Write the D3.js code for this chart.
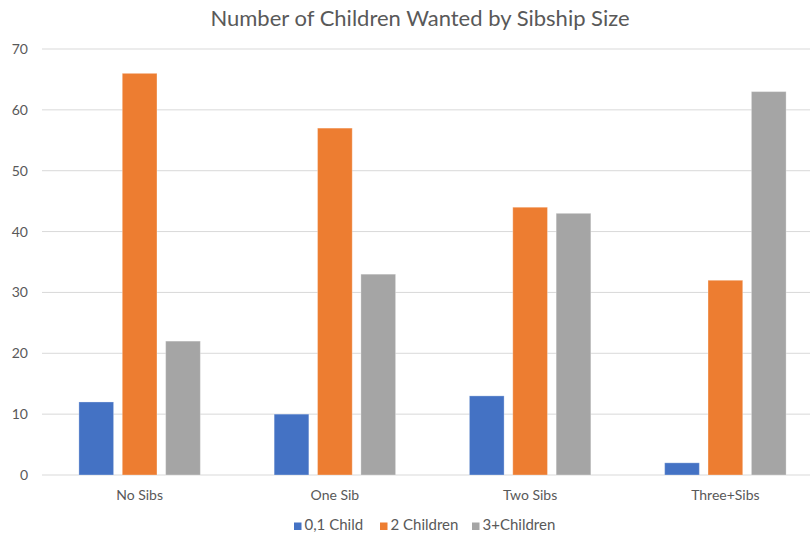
<!DOCTYPE html>
<html>
<head>
<meta charset="utf-8">
<script src="https://cdn.jsdelivr.net/npm/d3@7"></script>
<style>
  body { margin: 0; background: #fff; }
  text { font-family: Lato, "Noto Sans", sans-serif; fill: #595959; }
</style>
</head>
<body>
<div class="chart"></div>
<script>
// data
const categories = ["No Sibs", "One Sib", "Two Sibs", "Three+Sibs"];
const seriesNames = ["0,1 Child", "2 Children", "3+Children"];
const oneChild = [12, 10, 13, 2];
const twoChildren = [66, 57, 44, 32];
const threePlus = [22, 33, 43, 63];
const yTicks = [0, 10, 20, 30, 40, 50, 60, 70];
const colors = ["#4472c4", "#ed7d31", "#a5a5a5"];

const width = 810;
const height = 536;
const plotLeft = 42;
const plotRight = 823; // plot runs past the right edge of the picture
const plotTop = 49;
const plotBottom = 475;

const svg = d3.select(".chart")
  .append("svg")
  .attr("width", width)
  .attr("height", height);

const x0 = d3.scaleBand()
  .domain(categories)
  .range([plotLeft, plotRight])
  .paddingInner(0.378)
  .paddingOuter(0.189);

const x1 = d3.scaleBand()
  .domain(seriesNames)
  .range([0, x0.bandwidth()])
  .paddingInner(0.2)
  .paddingOuter(0);

const y = d3.scaleLinear()
  .domain([0, 70])
  .range([plotBottom, plotTop]);

// gridlines
svg.append("g")
  .selectAll("line")
  .data(yTicks)
  .enter()
  .append("line")
  .attr("x1", plotLeft)
  .attr("x2", width)
  .attr("y1", d => y(d))
  .attr("y2", d => y(d))
  .attr("stroke", "#d9d9d9")
  .attr("stroke-width", 1);

// y axis labels
const yAxis = d3.axisLeft(y).tickValues(yTicks).tickSize(0).tickPadding(14);
svg.append("g")
  .attr("transform", `translate(${plotLeft},0)`)
  .call(yAxis)
  .call(g => g.select(".domain").remove())
  .selectAll("text")
  .style("font-size", "14px")
  .attr("fill", "#595959");

// bars
const rows = categories.map((c, i) => ({
  cat: c,
  vals: [oneChild[i], twoChildren[i], threePlus[i]]
}));

const groups = svg.append("g")
  .selectAll("g")
  .data(rows)
  .enter()
  .append("g")
  .attr("transform", d => `translate(${x0(d.cat)},0)`);

groups.selectAll("rect")
  .data(d => d.vals.map((v, j) => ({name: seriesNames[j], v: v, j: j})))
  .enter()
  .append("rect")
  .attr("x", d => x1(d.name))
  .attr("width", x1.bandwidth())
  .attr("y", d => y(d.v))
  .attr("height", d => y(0) - y(d.v))
  .attr("fill", d => colors[d.j])
  .attr("stroke", "#fff")
  .attr("stroke-opacity", 0.3)
  .attr("stroke-width", 1);

// x axis
const xAxis = d3.axisBottom(x0).tickSize(0).tickPadding(15);
svg.append("g")
  .attr("transform", `translate(0,${y(0)})`)
  .call(xAxis)
  .call(g => g.select(".domain").remove())
  .selectAll("text")
  .style("font-size", "14px")
  .attr("fill", "#595959");

// title
svg.append("text")
  .attr("x", 420)
  .attr("y", 26)
  .attr("text-anchor", "middle")
  .style("font-size", "22px")
  .text("Number of Children Wanted by Sibship Size");

// legend
const legendX = [294, 380, 472];
const legend = svg.append("g")
  .selectAll("g")
  .data(seriesNames)
  .enter()
  .append("g")
  .attr("transform", (d, i) => `translate(${legendX[i]},530)`);

legend.append("rect")
  .attr("x", 0)
  .attr("y", -7.5)
  .attr("width", 7.5)
  .attr("height", 7.5)
  .attr("fill", (d, i) => colors[i]);

legend.append("text")
  .attr("x", 10.5)
  .attr("y", 0)
  .style("font-size", "15px")
  .text(d => d);
</script>
</body>
</html>
